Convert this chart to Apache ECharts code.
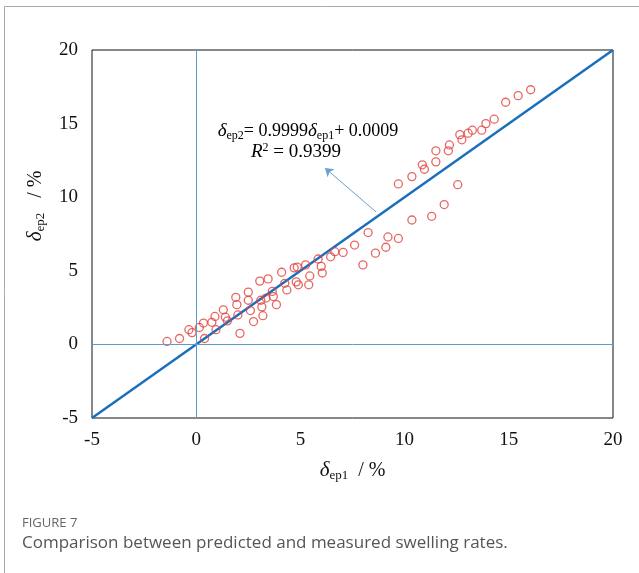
<!DOCTYPE html>
<html>
<head>
<meta charset="utf-8">
<script src="https://cdn.jsdelivr.net/npm/echarts@6/dist/echarts.min.js"></script>
<style>
  html, body { margin: 0; padding: 0; background: #fff; }
  #chart { width: 639px; height: 573px; }
</style>
</head>
<body>
<div id="chart"></div>
<script>
// measured (ep1) vs predicted (ep2) swelling rates, %
var ep1 = [-1.4, -0.8, -0.35, -0.2, 0.15, 0.35, 0.4, 0.75, 0.9, 0.95,
    1.3, 1.4, 1.5, 1.9, 1.95, 2.0, 2.1, 2.5, 2.5, 2.6,
    2.75, 3.05, 3.1, 3.15, 3.2, 3.45, 3.35, 3.65, 3.7, 3.85,
    4.1, 4.25, 4.35, 4.7, 4.85, 4.8, 4.9, 5.25, 5.45, 5.4,
    5.85, 6.0, 6.05, 6.45, 6.65, 7.05, 7.6, 8.0, 8.25, 8.6,
    9.1, 9.2, 9.7, 9.7, 10.35, 10.35, 10.85, 10.95, 11.3, 11.5,
    11.5, 11.9, 12.1, 12.15, 12.55, 12.65, 12.75, 13.05, 13.25, 13.7,
    13.9, 14.3, 14.85, 15.45, 16.05];
var ep2 = [0.2, 0.4, 1.0, 0.8, 1.15, 1.45, 0.4, 1.5, 1.9, 1.0,
    2.35, 1.85, 1.6, 3.2, 2.7, 2.0, 0.75, 3.55, 3.0, 2.3,
    1.55, 4.3, 3.0, 2.55, 1.95, 4.45, 3.15, 3.6, 3.25, 2.7,
    4.9, 4.15, 3.7, 5.2, 5.25, 4.25, 4.05, 5.4, 4.65, 4.05,
    5.8, 5.3, 4.85, 5.95, 6.3, 6.25, 6.75, 5.4, 7.6, 6.2,
    6.6, 7.3, 7.2, 10.9, 8.45, 11.4, 12.2, 11.9, 8.7, 12.4,
    13.15, 9.5, 13.15, 13.55, 10.85, 14.25, 13.9, 14.35, 14.55, 14.55,
    15.0, 15.3, 16.45, 16.9, 17.3];
var fitSlope = 0.9999;
var fitIntercept = 0.0009;
var axisMin = -5, axisMax = 20, axisStep = 5;

var points = [];
for (var i = 0; i < ep1.length; i++) {
    points.push([ep1[i], ep2[i]]);
}
var fitLine = [
    [axisMin, fitSlope * axisMin + fitIntercept],
    [axisMax, fitSlope * axisMax + fitIntercept]
];

var serif = '"Liberation Serif", "Times New Roman", serif';
var sym = {
    d: { fontFamily: serif, fontStyle: 'italic', fontSize: 19, color: '#111' },
    s: { fontFamily: serif, fontSize: 12, color: '#111', padding: [9, 0, 0, 0] },
    t: { fontFamily: serif, fontSize: 18, color: '#111' },
    i: { fontFamily: serif, fontStyle: 'italic', fontSize: 19, color: '#111' },
    n: { fontFamily: serif, fontSize: 19, color: '#111' },
    sup: { fontFamily: serif, fontSize: 12, color: '#111', padding: [0, 0, 8, 0] }
};
var axName = {
    d: { fontFamily: serif, fontStyle: 'italic', fontSize: 21, color: '#111' },
    s: { fontFamily: serif, fontSize: 13, color: '#111', padding: [10, 0, 0, 0] },
    t: { fontFamily: serif, fontSize: 20, color: '#111' }
};

var chart = echarts.init(document.getElementById('chart'));
chart.setOption({
    backgroundColor: '#fff',
    animation: false,
    grid: {
        left: 92, right: 26, top: 50, bottom: 155,
        show: true, borderColor: '#111', borderWidth: 1
    },
    xAxis: {
        type: 'value', min: axisMin, max: axisMax, interval: axisStep,
        name: '{d|δ}{s|ep1}{t|  / %}',
        nameLocation: 'middle', nameGap: 41,
        nameTextStyle: { rich: axName },
        axisLine: { show: false }, axisTick: { show: false },
        splitLine: { show: false },
        axisLabel: { fontFamily: serif, fontSize: 19, color: '#111', margin: 13 }
    },
    yAxis: {
        type: 'value', min: axisMin, max: axisMax, interval: axisStep,
        name: '{d|δ}{s|ep2}{t|   / %}',
        nameLocation: 'middle', nameGap: 45, nameRotate: 90,
        nameTextStyle: { rich: axName, padding: [0, 0, 0, 56] },
        axisLine: { show: false }, axisTick: { show: false },
        splitLine: { show: false },
        axisLabel: { fontFamily: serif, fontSize: 19, color: '#111', margin: 14 }
    },
    series: [{
        type: 'line',
        data: fitLine,
        symbol: 'none',
        lineStyle: { color: '#1a6fbd', width: 2.5 },
        z: 3
    }, {
        type: 'scatter',
        data: points,
        symbol: 'circle',
        symbolSize: 8,
        itemStyle: { color: 'rgba(255,255,255,0)', borderColor: '#e0413c', borderWidth: 1.3 },
        z: 4,
        markLine: {
            silent: true,
            symbol: 'none',
            label: { show: false },
            lineStyle: { color: '#5a9bd0', width: 1, type: 'solid' },
            data: [{ xAxis: 0 }, { yAxis: 0 }]
        }
    }, {
        type: 'line',
        data: [],
        markLine: {
            silent: true,
            symbol: ['none', 'arrow'],
            symbolSize: 8,
            label: { show: false },
            lineStyle: { color: '#6d9fd0', width: 1, type: 'solid' },
            data: [[{ coord: [8.63, 9.0] }, { coord: [6.18, 11.98] }]]
        }
    }],
    graphic: [{
        type: 'rect',
        shape: { x: 4.5, y: 6.5, width: 700, height: 700 },
        style: { fill: 'none', stroke: '#aaa', lineWidth: 1 },
        silent: true
    }, {
        type: 'text',
        style: {
            x: 308, y: 131, align: 'center', verticalAlign: 'middle',
            text: '{d|δ}{s|ep2}{t|= 0.9999}{d|δ}{s|ep1}{t|+ 0.0009}',
            rich: sym
        }
    }, {
        type: 'text',
        style: {
            x: 296, y: 152, align: 'center', verticalAlign: 'middle',
            text: '{i|R}{sup|2}{n| = 0.9399}',
            rich: sym
        }
    }, {
        type: 'text',
        style: {
            x: 22, y: 523, verticalAlign: 'middle',
            text: 'FIGURE 7',
            font: '13px "Open Sans", "Noto Sans", sans-serif', fill: '#666'
        }
    }, {
        type: 'text',
        style: {
            x: 22, y: 543, verticalAlign: 'middle',
            text: 'Comparison between predicted and measured swelling rates.',
            font: '17px "Open Sans", "Noto Sans", sans-serif', fill: '#555'
        }
    }]
});
</script>
</body>
</html>
